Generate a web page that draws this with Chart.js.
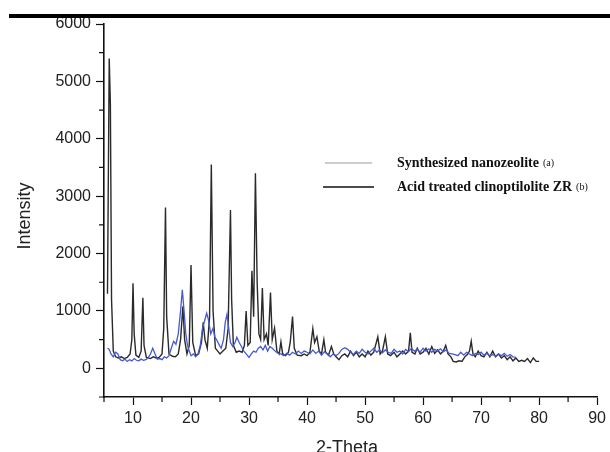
<!DOCTYPE html>
<html>
<head>
<meta charset="utf-8">
<script src="https://cdn.jsdelivr.net/npm/chart.js@4.4.1/dist/chart.umd.min.js"></script>
<style>
  html, body { margin: 0; padding: 0; background: #fff; }
  #wrap { position: relative; width: 610px; height: 452px; overflow: hidden; }
  #topbar { position: absolute; left: 9px; top: 14px; width: 601px; height: 4px; background: #000; }
</style>
</head>
<body>
<div id="wrap">
  <canvas id="xrd" width="610" height="452"></canvas>
  <div id="topbar"></div>
</div>
<script>
// ── Acid treated clinoptilolite ZR (b) : 2θ / intensity ──
const ZR_THETA = [
  5.6, 5.9, 6.1, 6.3, 6.6, 7.0, 7.5, 8.0, 8.5, 9.0, 9.5, 9.8, 10.0, 10.2, 10.5,
  11.0, 11.4, 11.7, 11.9, 12.3, 13.0, 13.5, 14.0, 14.5, 15.0, 15.3, 15.6, 15.8, 16.2,
  16.8, 17.3, 17.8, 18.2, 18.6, 18.9, 19.3, 19.7, 20.0, 20.3, 20.8, 21.3, 21.8, 22.1,
  22.4, 22.8, 23.2, 23.5, 23.8, 24.2, 24.6, 25.0, 25.5, 26.0, 26.4, 26.8, 27.0, 27.3,
  27.8, 28.3, 28.8, 29.2, 29.5, 29.8, 30.2, 30.5, 30.8, 31.1, 31.4, 31.7, 32.0, 32.3,
  32.6, 33.0, 33.3, 33.7, 34.0, 34.4, 34.8, 35.2, 35.5, 35.8, 36.3, 36.8, 37.1, 37.5,
  37.8, 38.3, 39.0, 39.5, 40.0, 40.5, 41.0, 41.3, 41.7, 42.1, 42.5, 42.9, 43.2, 43.7,
  44.2, 44.6, 45.0, 45.5, 46.0, 46.5, 47.0, 47.5, 48.0, 48.5, 49.0, 49.5, 50.0, 50.5,
  51.0, 51.5, 52.2, 52.6, 53.0, 53.5, 53.9, 54.4, 55.0, 55.5, 56.0, 56.5, 57.0, 57.5,
  57.8, 58.1, 58.6, 59.0, 59.5, 60.0, 60.5, 61.0, 61.5, 62.0, 62.5, 63.0, 63.5, 63.9,
  64.3, 64.8, 65.2, 65.7, 66.2, 66.7, 67.2, 67.7, 68.0, 68.3, 68.6, 69.0, 69.5, 70.0,
  70.5, 71.0, 71.5, 72.0, 72.5, 73.0, 73.5, 74.0, 74.5, 75.0, 75.5, 76.0, 76.5, 77.0,
  77.5, 78.0, 78.5, 79.0, 79.5, 80.0
];
const ZR_INT = [
  1300, 5400, 4600, 1200, 300, 200, 180, 200, 170, 190, 250, 500, 1480, 600, 230,
  190, 300, 1230, 400, 190, 170, 200, 180, 190, 250, 700, 2800, 900, 250,
  210, 200, 250, 500, 1080, 500, 250, 400, 1800, 450, 220, 250, 450, 800,
  500, 350, 900, 3550, 1000, 350, 300, 250, 300, 350, 700, 2760, 1200, 400,
  280, 300, 280, 400, 1000, 400, 450, 1700, 900, 3400, 1500, 600, 500, 1400,
  500, 600, 400, 1320, 500, 700, 300, 250, 460, 250, 220, 280, 450, 900,
  350, 230, 220, 250, 220, 280, 690, 450, 550, 300, 250, 500, 280, 230,
  380, 250, 200, 150, 220, 250, 200, 300, 220, 280, 200, 250, 200, 300,
  230, 280, 550, 250, 300, 550, 250, 220, 280, 200, 250, 300, 250, 300,
  620, 280, 250, 350, 250, 280, 350, 250, 380, 260, 320, 250, 300, 400,
  250, 200, 120, 110, 130, 120, 200, 250, 300, 470, 250, 200, 300, 220,
  200, 280, 200, 300, 200, 250, 180, 220, 150, 200, 130, 180, 120, 140,
  120, 170, 100, 180, 120, 120
];

// ── Synthesized nanozeolite (a) ──
const NANO_THETA = [
  5.6, 5.9, 6.2, 6.6, 7.0, 7.4, 7.8, 8.2, 8.6, 9.0, 9.4, 9.8, 10.2, 10.6, 11.0,
  11.4, 11.8, 12.2, 12.6, 13.0, 13.4, 13.8, 14.2, 14.6, 15.0, 15.4, 15.8, 16.2, 16.6,
  17.0, 17.4, 17.8, 18.2, 18.5, 18.8, 19.1, 19.4, 19.7, 20.0, 20.4, 20.8, 21.2, 21.6,
  22.0, 22.4, 22.7, 23.0, 23.4, 23.8, 24.1, 24.5, 24.9, 25.2, 25.6, 25.9, 26.2, 26.5,
  26.8, 27.2, 27.6, 27.9, 28.3, 28.7, 29.1, 29.5, 30.0, 30.4, 30.8, 31.2, 31.6, 32.0,
  32.4, 32.8, 33.2, 33.6, 34.0, 34.5, 35.0, 35.5, 36.0, 36.5, 37.0, 37.5, 38.0, 38.5,
  39.0, 39.5, 40.0, 40.5, 41.0, 41.5, 42.0, 42.5, 43.0, 43.5, 44.0, 44.5, 45.0, 45.5,
  46.0, 46.5, 47.0, 47.5, 48.0, 48.5, 49.0, 49.5, 50.0, 50.5, 51.0, 51.5, 52.0, 52.5,
  53.0, 53.5, 54.0, 54.5, 55.0, 55.5, 56.0, 56.5, 57.0, 57.5, 58.0, 58.5, 59.0, 59.5,
  60.0, 60.5, 61.0, 61.5, 62.0, 62.5, 63.0, 63.5, 64.0, 64.5, 65.0, 65.5, 66.0, 66.5,
  67.0, 67.5, 68.0, 68.5, 69.0, 69.5, 70.0, 70.5, 71.0, 71.5, 72.0, 72.5, 73.0, 73.5,
  74.0, 74.5, 75.0, 75.5, 76.0
];
const NANO_INT = [
  350, 330, 250, 200, 280, 250, 150, 130, 160, 120, 150, 130, 170, 140, 130,
  160, 140, 150, 180, 250, 350, 250, 160, 170, 150, 200, 180, 220, 350,
  470, 420, 600, 1000, 1370, 1000, 600, 400, 300, 220, 250, 200, 250, 400,
  700, 850, 960, 850, 600, 700, 550, 480, 400, 350, 500, 800, 940, 700,
  450, 380, 450, 540, 450, 380, 300, 250, 190, 250, 300, 280, 350, 380,
  320, 400, 300, 380, 350, 300, 260, 250, 220, 260, 230, 280, 250, 300,
  260, 300, 280, 250, 320, 260, 300, 230, 290, 250, 200, 250, 220, 260,
  330, 360, 330, 280, 240, 300, 260, 330, 280, 250, 300, 350, 280, 320,
  270, 320, 280, 260, 330, 280, 300, 250, 330, 290, 350, 300, 330, 280,
  350, 300, 340, 280, 330, 300, 340, 290, 320, 260, 250, 240, 220, 280,
  230, 280, 250, 220, 260, 240, 280, 230, 260, 220, 240, 210, 250, 220,
  260, 210, 240, 200, 190
];

// ── Trục ──
const X_MIN = 5, X_MAX = 90;
const X_TICKS = [10, 20, 30, 40, 50, 60, 70, 80, 90];
const X_MINOR = [5, 15, 25, 35, 45, 55, 65, 75, 85];
const Y_MIN = -500, Y_MAX = 6000;
const Y_TICKS = [0, 1000, 2000, 3000, 4000, 5000, 6000];
const Y_MINOR = [-500, 500, 1500, 2500, 3500, 4500, 5500];

const LEGEND_LABELS = ['Synthesized nanozeolite', 'Acid treated clinoptilolite ZR'];
const LEGEND_TAGS = ['(a)', '(b)'];

function toPoints(xs, ys) {
  return xs.map((x, i) => ({ x, y: ys[i] }));
}

const TICK_FONT = { family: '"Liberation Sans", Arial, sans-serif', size: 16 };

// vẽ vạch phụ, tiêu đề trục và chú thích
const decorPlugin = {
  id: 'decor',
  afterDraw(chart) {
    const { ctx, scales: { x, y } } = chart;
    const area = chart.chartArea;
    ctx.save();
    ctx.strokeStyle = '#111';
    ctx.lineWidth = 1.2;
    ctx.beginPath();
    X_MINOR.forEach(v => {
      const px = x.getPixelForValue(v);
      ctx.moveTo(px, area.bottom);
      ctx.lineTo(px, area.bottom + 5);
    });
    Y_MINOR.forEach(v => {
      const py = y.getPixelForValue(v);
      ctx.moveTo(area.left, py);
      ctx.lineTo(area.left - 5, py);
    });
    ctx.stroke();

    // tiêu đề trục
    ctx.fillStyle = '#222';
    ctx.font = '18px "Liberation Sans", Arial, sans-serif';
    ctx.textAlign = 'center';
    ctx.textBaseline = 'alphabetic';
    ctx.fillText('2-Theta', 347, 453);
    ctx.textBaseline = 'middle';
    ctx.translate(25, 216);
    ctx.rotate(-Math.PI / 2);
    ctx.fillText('Intensity', 0, 0);
    ctx.restore();

    // chú thích
    ctx.save();
    const rows = [
      { y: 163, color: '#9a9a9a', width: 1, x0: 325, x1: 372 },
      { y: 187, color: '#111', width: 1.6, x0: 323, x1: 374 },
    ];
    rows.forEach((r, i) => {
      ctx.strokeStyle = r.color;
      ctx.lineWidth = r.width;
      ctx.beginPath();
      ctx.moveTo(r.x0, r.y);
      ctx.lineTo(r.x1, r.y);
      ctx.stroke();
      ctx.fillStyle = '#111';
      ctx.textAlign = 'left';
      ctx.textBaseline = 'middle';
      ctx.font = 'bold 14px "Liberation Serif", "Times New Roman", serif';
      ctx.fillText(LEGEND_LABELS[i], 397, r.y);
      const w = ctx.measureText(LEGEND_LABELS[i]).width;
      ctx.font = '10px "Liberation Serif", "Times New Roman", serif';
      ctx.fillText(LEGEND_TAGS[i], 397 + w + 4, r.y);
    });
    ctx.restore();
  }
};

new Chart(document.getElementById('xrd'), {
  type: 'line',
  data: {
    datasets: [
      {
        label: LEGEND_LABELS[0],
        data: toPoints(NANO_THETA, NANO_INT),
        borderColor: '#4659cf',
        borderWidth: 1.3,
        pointRadius: 0,
        tension: 0,
        order: 0,
      },
      {
        label: LEGEND_LABELS[1],
        data: toPoints(ZR_THETA, ZR_INT),
        borderColor: '#2a2a2a',
        borderWidth: 1.4,
        pointRadius: 0,
        tension: 0,
        order: 1,
      }
    ]
  },
  options: {
    responsive: false,
    animation: false,
    layout: { padding: { left: 0, top: 24, right: 12, bottom: 0 } },
    plugins: { legend: { display: false }, tooltip: { enabled: false } },
    scales: {
      x: {
        type: 'linear',
        min: X_MIN, max: X_MAX,
        afterFit: s => { s.height = 55; },
        afterBuildTicks: s => { s.ticks = X_TICKS.map(v => ({ value: v })); },
        border: { display: true, color: '#111', width: 1.6 },
        grid: { drawOnChartArea: false, tickLength: 8, tickWidth: 1.2, tickColor: '#111' },
        ticks: {
          autoSkip: false,
          maxRotation: 0,
          padding: 4,
          color: '#222',
          font: TICK_FONT,
          callback: v => String(v),
        }
      },
      y: {
        min: Y_MIN, max: Y_MAX,
        afterFit: s => { s.width = 104; },
        afterBuildTicks: s => { s.ticks = Y_TICKS.map(v => ({ value: v })); },
        border: { display: true, color: '#111', width: 1.6 },
        grid: { drawOnChartArea: false, tickLength: 8, tickWidth: 1.2, tickColor: '#111' },
        ticks: {
          autoSkip: false,
          padding: 5,
          color: '#222',
          font: TICK_FONT,
          callback: v => String(v),
        }
      }
    }
  },
  plugins: [decorPlugin]
});
</script>
</body>
</html>
